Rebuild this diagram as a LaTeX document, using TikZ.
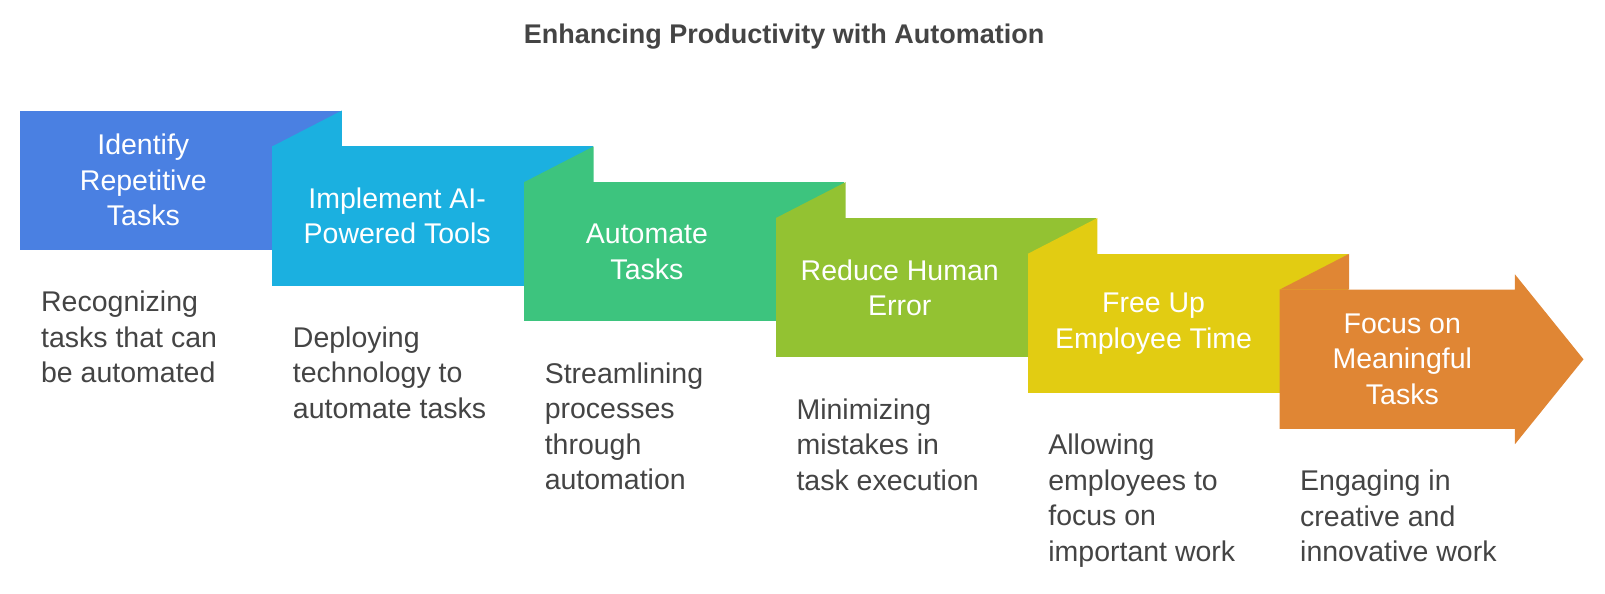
\documentclass[tikz,border=0pt]{standalone}
\usepackage{fontspec}
\setmainfont{Liberation Sans}
\definecolor{c1}{HTML}{4A80E2}
\definecolor{c2}{HTML}{1BB0E0}
\definecolor{c3}{HTML}{3DC47E}
\definecolor{c4}{HTML}{93C232}
\definecolor{c5}{HTML}{E2CC12}
\definecolor{c6}{HTML}{E08634}
\definecolor{txt}{HTML}{444444}
\tikzset{
  ttl/.style={text=white,font=\fontsize{28.5}{35.5}\selectfont,align=center},
  dsc/.style={text=txt,font=\fontsize{28.5}{35.5}\selectfont,align=left,anchor=north west,inner sep=0pt}
}
\begin{document}
\begin{tikzpicture}[x=1.0236pt,y=-1.0236pt]
\useasboundingbox (0,0) rectangle (1568,580.3);
\node[font=\bfseries\fontsize{27}{30}\selectfont,text=txt] (title) at (766,36) {Enhancing Productivity with Automation};
\foreach \i/\c in {0/c1,1/c2,2/c3,3/c4,4/c5}{
  \pgfmathsetmacro\xa{20+246*\i}
  \pgfmathsetmacro\ya{108+35*\i}
  \ifnum\i>0
    \fill[\c] (\xa,\ya) -- (\xa+68,\ya-35) -- (\xa+68,\ya) -- cycle;
  \fi
  \fill[\c] (\xa,\ya) rectangle (\xa+313,\ya+136);
}
\fill[c6] (1250,283) -- (1318,248) -- (1318,283) -- cycle;
\fill[c6] (1250,283) -- (1480,283) -- (1480,268) -- (1547,351) -- (1480,434) -- (1480,419) -- (1250,419) -- cycle;
\node[ttl] (t1) at (140,176) {Identify\\Repetitive\\Tasks};
\node[ttl] (t2) at (388,211) {Implement AI-\\Powered Tools};
\node[ttl] (t3) at (632,246) {Automate\\Tasks};
\node[ttl] (t4) at (879,281) {Reduce Human\\Error};
\node[ttl] (t5) at (1127,316) {Free Up\\Employee Time};
\node[ttl] (t6) at (1370,351) {Focus on\\Meaningful\\Tasks};
\node[dsc] (d1) at (40,284) {Recognizing\\tasks that can\\be automated};
\node[dsc] (d2) at (286,319) {Deploying\\technology to\\automate tasks};
\node[dsc] (d3) at (532,354) {Streamlining\\processes\\through\\automation};
\node[dsc] (d4) at (778,389) {Minimizing\\mistakes in\\task execution};
\node[dsc] (d5) at (1024,424) {Allowing\\employees to\\focus on\\important work};
\node[dsc] (d6) at (1270,459) {Engaging in\\creative and\\innovative work};
\end{tikzpicture}
\end{document}
